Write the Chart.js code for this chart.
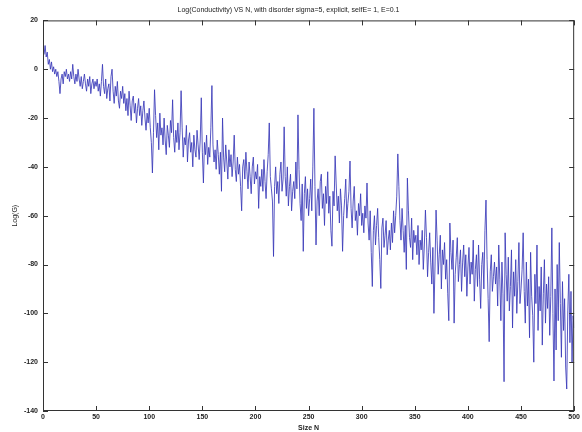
<!DOCTYPE html>
<html>
<head>
<meta charset="utf-8">
<script src="https://cdn.jsdelivr.net/npm/chart.js@4.4.1/dist/chart.umd.min.js"></script>
<style>
  html, body { margin: 0; padding: 0; background: #fff; }
  #wrap { width: 582px; height: 432px; position: relative; }
</style>
</head>
<body>
<div id="wrap"><canvas id="cond"></canvas></div>
<script>
'use strict'

// Chart text
const TITLE = 'Log(Conductivity) VS N, with disorder sigma=5, explicit, selfE= 1, E=0.1';
const X_LABEL = 'Size N';
const Y_LABEL = 'Log(G)';

// Axis ticks
const X_TICKS = [0, 50, 100, 150, 200, 250, 300, 350, 400, 450, 500];
const Y_TICKS = [20, 0, -20, -40, -60, -80, -100, -120, -140];

// log(G) for N = 1..500
const LOG_G = [
    6, 9.7, 5, 7, 2, 4, 0, 3, -1, 1, -2, 0, -3, -1, -5, -10, -4, -2, -6, -1, -3, 0, -4, -2, -5,
    -1, -4, 2, -3, -6, -2, -5, 0, -4, -7, -3, -8, -5, -2, -6, -9, -4, -7, -3, -10, -6, -4, -8, -5, -7,
    -4, -9, -6, -11, -5, 2, -7, -10, -4, -12, -8, -6, -13, -3, 0, -9, -14, -7, -11, -5, -13, -16, -9, -12, -7,
    -14, -10, -17, -12, -19, -9, -15, -21, -13, -11, -18, -14, -22, -16, -12, -19, -15, -23, -17, -13, -20, -25, -18, -22, -16,
    -24, -30, -42.5, -26, -8.4, -19, -28, -22, -33, -18, -27, -24, -31, -20, -29, -35, -23, -27, -32, -21, -26, -12.5, -28, -34, -25,
    -30, -22, -33, -26, -8.8, -24, -36, -28, -31, -23, -38, -29, -26, -34, -30, -40, -27, -33, -36, -25, -31, -37, -29, -11.7, -34,
    -46.6, -30, -35, -27, -39, -32, -36, -24, -6.7, -31, -38, -33, -41, -29, -35, -43, -34, -50, -20, -36, -42, -31, -38, -45, -33,
    -40, -35, -44, -38, -27, -41, -46, -36, -43, -39, -48, -58, -40, -37, -45, -34, -42, -49, -38, -44, -51, -40, -36, -47, -42,
    -45, -39, -57, -44, -48, -41, -50, -37, -46, -53, -42, -35, -22, -44, -49, -54, -76.7, -48, -40, -51, -46, -55, -43, -38, -50,
    -45, -23.6, -44, -52, -40, -56, -48, -43, -58, -50, -46, -53, -38, -49, -18.7, -41, -55, -62, -47, -74.6, -51, -44, -57, -49, -60,
    -53, -45, -58, -40, -16, -48, -72, -54, -49, -60, -46, -43, -57, -51, -64, -48, -55, -42, -59, -52, -66, -72.5, -50, -56, -35.5,
    -47, -58, -52, -63, -49, -56, -74.6, -60, -53, -45, -61, -55, -50, -37.6, -57, -65, -54, -48, -62, -58, -68, -55, -60, -51, -64,
    -59, -67, -56, -61, -46.6, -63, -70, -58, -75, -89, -66, -60, -72, -64, -57, -69, -78, -89.8, -65, -61, -73, -68, -62, -76, -70,
    -66, -74, -63, -71, -58, -67, -60, -52, -34.7, -48, -62, -70, -57, -66, -75, -64, -82, -44.6, -58, -69, -73, -61, -78, -66, -71,
    -68, -76, -64, -80, -70, -74, -66, -82, -72, -57.7, -69, -85, -75, -67, -79, -88, -73, -100, -81, -57.7, -70, -84, -76, -68, -90,
    -74, -80, -71, -86, -78, -92, -103, -63, -75, -82, -70, -104, -84, -77, -69, -87, -80, -74, -91, -79, -72, -85, -76, -93, -81,
    -73, -88, -79, -84, -70, -95, -82, -76, -89, -72, -86, -98, -80, -75, -90, -66, -53.6, -78, -94, -111.6, -83, -76, -91, -85, -79,
    -88, -81, -97, -72, -86, -103, -79, -92, -128, -67, -84, -95, -77, -99, -89, -74, -106, -83, -93, -78, -100, -87, -71, -96, -90,
    -82, -67, -91, -104, -79, -97, -86, -110, -75, -93, -101, -120, -84, -96, -72, -107, -89, -99, -81, -113, -92, -78, -104, -88, -98,
    -85, -109, -93, -65, -100, -127.7, -90, -115, -80, -103, -71, -96, -118, -87, -107, -94, -122, -131, -99, -84, -112, -91, -120, -101, -106
];

const TEXT = '#222';
const FONT = '"Liberation Sans", Arial, sans-serif';

// matlab style box with inward ticks on all four sides
const boxPlugin = {
    id: 'box',
    afterDraw(chart) {
        const {ctx, chartArea: a, scales} = chart;
        ctx.save();
        ctx.strokeStyle = '#333';
        ctx.lineWidth = 1;
        ctx.strokeRect(a.left + 0.5, a.top + 0.5, a.right - a.left - 1, a.bottom - a.top - 1);
        ctx.beginPath();
        X_TICKS.forEach(v => {
            const px = Math.round(scales.x.getPixelForValue(v)) + 0.5;
            ctx.moveTo(px, a.bottom); ctx.lineTo(px, a.bottom - 5);
            ctx.moveTo(px, a.top); ctx.lineTo(px, a.top + 5);
        });
        Y_TICKS.forEach(v => {
            const py = Math.round(scales.y.getPixelForValue(v)) + 0.5;
            ctx.moveTo(a.left, py); ctx.lineTo(a.left + 5, py);
            ctx.moveTo(a.right, py); ctx.lineTo(a.right - 5, py);
        });
        ctx.stroke();
        ctx.restore();
    }
};

const points = LOG_G.map((v, i) => ({x: i + 1, y: v}));

new Chart(document.getElementById('cond'), {
    type: 'line',
    data: {
        datasets: [{
            data: points,
            borderColor: 'rgba(58, 58, 185, 0.85)',
            borderWidth: 1,
            pointRadius: 0,
            tension: 0
        }]
    },
    options: {
        responsive: true,
        maintainAspectRatio: false,
        animation: false,
        layout: { padding: { left: 0, right: 5, top: 0, bottom: 0 } },
        plugins: {
            legend: { display: false },
            tooltip: { enabled: false },
            title: {
                display: true,
                text: TITLE,
                color: TEXT,
                font: { family: FONT, size: 7, weight: 'normal' },
                padding: { top: 6, bottom: 6 }
            }
        },
        scales: {
            x: {
                type: 'linear',
                min: 0,
                max: 500,
                afterBuildTicks: s => { s.ticks = X_TICKS.map(v => ({value: v})); },
                afterFit: s => { s.height = 21; },
                grid: { display: false, drawTicks: false },
                border: { display: false },
                ticks: { color: TEXT, font: { family: FONT, size: 7, weight: 'bold' }, padding: 2, maxRotation: 0 },
                title: { display: true, text: X_LABEL, color: TEXT, font: { family: FONT, size: 7, weight: 'bold' }, padding: 0 }
            },
            y: {
                min: -140,
                max: 20,
                afterBuildTicks: s => { s.ticks = Y_TICKS.map(v => ({value: v})); },
                afterFit: s => { s.width = 43; },
                grid: { display: false, drawTicks: false },
                border: { display: false },
                ticks: { color: TEXT, font: { family: FONT, size: 7, weight: 'bold' }, padding: 5 },
                title: { display: true, text: Y_LABEL, color: TEXT, font: { family: FONT, size: 7 }, padding: { top: 11, bottom: 0 } }
            }
        }
    },
    plugins: [boxPlugin]
});
</script>
</body>
</html>
